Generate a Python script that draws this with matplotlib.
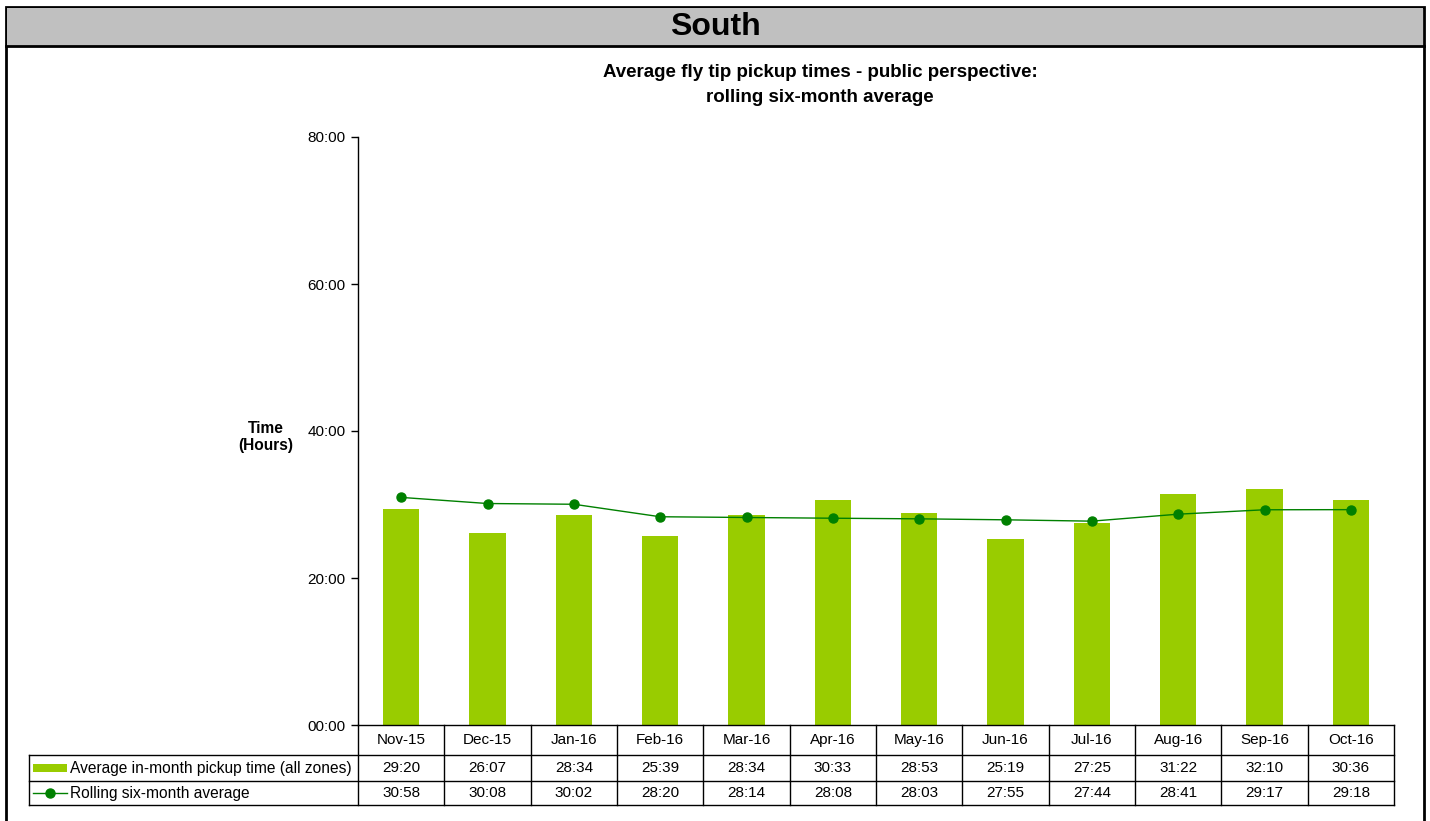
import matplotlib
matplotlib.use("Agg")
import matplotlib.pyplot as plt
from matplotlib.lines import Line2D
from matplotlib.patches import Rectangle
from matplotlib.ticker import FuncFormatter, MultipleLocator
import matplotlib.transforms as mtransforms

plt.rcParams['font.family'] = ['Liberation Sans', 'DejaVu Sans']

months = ['Nov-15', 'Dec-15', 'Jan-16', 'Feb-16', 'Mar-16', 'Apr-16',
          'May-16', 'Jun-16', 'Jul-16', 'Aug-16', 'Sep-16', 'Oct-16']
in_month = ['29:20', '26:07', '28:34', '25:39', '28:34', '30:33',
            '28:53', '25:19', '27:25', '31:22', '32:10', '30:36']
rolling = ['30:58', '30:08', '30:02', '28:20', '28:14', '28:08',
           '28:03', '27:55', '27:44', '28:41', '29:17', '29:18']

bar_label = 'Average in-month pickup time (all zones)'
line_label = 'Rolling six-month average'
bar_color = '#99CC00'
line_color = '#008000'


def to_hours(s):
    h, m = s.split(':')
    return int(h) + int(m) / 60.0


W, H = 1430, 821
fig = plt.figure(figsize=(W / 100, H / 100), dpi=100)


def fx(px):
    return px / W


def fy(py):
    return 1 - py / H


# axes placed in pixel terms
ax = fig.add_axes([fx(358), fy(725), fx(1394) - fx(358), fy(137) - fy(725)])

x = list(range(len(months)))
ax.bar(x, [to_hours(v) for v in in_month], width=0.42, color=bar_color, zorder=2)
ax.plot(x, [to_hours(v) for v in rolling], color=line_color, lw=1,
        marker='o', markersize=6.5, zorder=3)

ax.set_xlim(-0.5, len(months) - 0.5)
ax.set_ylim(0, 80)
ax.yaxis.set_major_locator(MultipleLocator(20))
ax.yaxis.set_major_formatter(FuncFormatter(lambda v, p: f"{int(v):02d}:00"))
ax.tick_params(axis='y', direction='out', length=5, width=1, labelsize=11, pad=4)
ax.set_xticks([])
for s in ['top', 'right']:
    ax.spines[s].set_visible(False)
ax.spines['left'].set_linewidth(1)
ax.spines['bottom'].set_linewidth(1)

# frame and heading bar
fig.add_artist(Rectangle((fx(6), fy(840)), fx(1424) - fx(6), fy(7) - fy(840),
                         transform=fig.transFigure, fill=False, ec='black', lw=2))
fig.add_artist(Rectangle((fx(7), fy(46)), fx(1423) - fx(7), fy(8) - fy(46),
                         transform=fig.transFigure, fc='#C0C0C0', ec='none'))
fig.add_artist(Line2D([fx(6), fx(1424)], [fy(46), fy(46)], transform=fig.transFigure,
                      color='black', lw=2))
fig.text(fx(715), fy(27), 'South', ha='center', va='center', fontsize=23, fontweight='bold')

fig.text(fx(820), fy(85), 'Average fly tip pickup times - public perspective:\nrolling six-month average',
         ha='center', va='center', fontsize=13.5, fontweight='bold', linespacing=1.55)
fig.text(fx(266), fy(437), 'Time\n(Hours)', ha='center', va='center',
         fontsize=11.2, fontweight='bold', linespacing=1.15)

# data table under the axis
blend = mtransforms.blended_transform_factory(ax.transData, fig.transFigure)
tk = dict(color='black', lw=1)
for i in range(len(months) + 1):
    fig.add_artist(Line2D([i - 0.5, i - 0.5], [fy(725), fy(805)], transform=blend, **tk))
for py in [755, 781, 805]:
    fig.add_artist(Line2D([fx(29), fx(1394)], [fy(py), fy(py)], transform=fig.transFigure, **tk))
fig.add_artist(Line2D([fx(29), fx(29)], [fy(755), fy(805)], transform=fig.transFigure, **tk))

for i, m in enumerate(months):
    fig.text(i, fy(740), m, transform=blend, ha='center', va='center', fontsize=11)
    fig.text(i, fy(768), in_month[i], transform=blend, ha='center', va='center', fontsize=11)
    fig.text(i, fy(793), rolling[i], transform=blend, ha='center', va='center', fontsize=11)

fig.add_artist(Rectangle((fx(33), fy(772)), fx(67) - fx(33), fy(764) - fy(772),
                         transform=fig.transFigure, fc=bar_color, ec='none'))
fig.text(fx(70), fy(768), bar_label, ha='left', va='center', fontsize=11.2)
fig.add_artist(Line2D([fx(33), fx(67)], [fy(793), fy(793)], transform=fig.transFigure,
                      color=line_color, lw=1))
fig.add_artist(Line2D([fx(50)], [fy(793)], transform=fig.transFigure, color=line_color,
                      marker='o', markersize=6.5))
fig.text(fx(70), fy(793), line_label, ha='left', va='center', fontsize=11.2)

fig.savefig('out.png', dpi=100)
